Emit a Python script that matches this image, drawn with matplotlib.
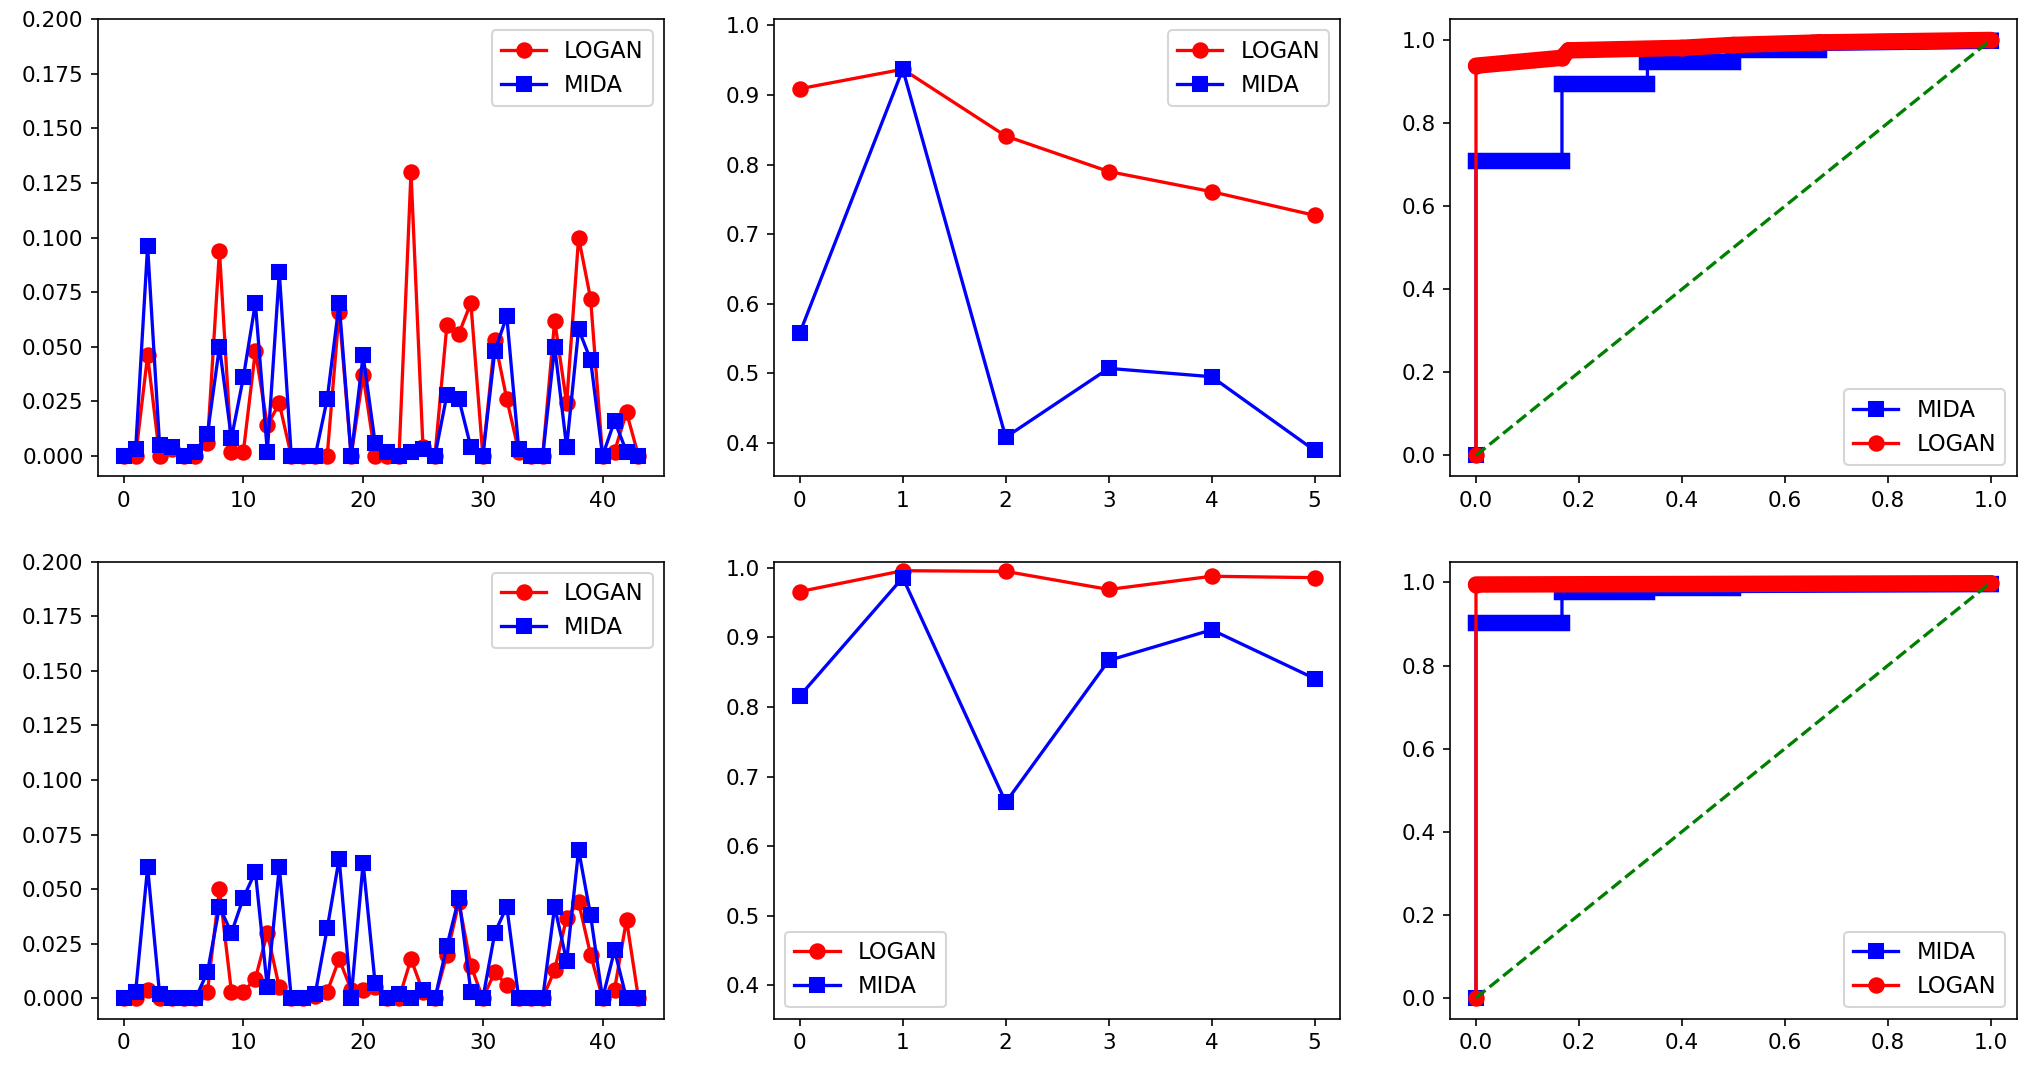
import matplotlib
matplotlib.use("Agg")
import matplotlib.pyplot as plt

plt.rcParams['font.size'] = 10.5
plt.rcParams['legend.fontsize'] = 11
plt.rcParams['lines.markersize'] = 7
plt.rcParams['lines.linewidth'] = 1.6

# per-sample error, top row / bottom row
logan_err_top = [0, 0, 0.046, 0, 0.003, 0, 0, 0.006, 0.094, 0.002, 0.002, 0.048, 0.014, 0.024, 0, 0,
                 0, 0, 0.066, 0, 0.037, 0, 0, 0, 0.130, 0.004, 0, 0.060, 0.056, 0.070, 0, 0.053,
                 0.026, 0.002, 0, 0, 0.062, 0.024, 0.100, 0.072, 0, 0.002, 0.020, 0]
mida_err_top = [0, 0.003, 0.096, 0.005, 0.004, 0, 0.002, 0.010, 0.050, 0.008, 0.036, 0.070, 0.002, 0.084, 0, 0,
                0, 0.026, 0.070, 0, 0.046, 0.006, 0.002, 0, 0.002, 0.003, 0, 0.028, 0.026, 0.004, 0, 0.048,
                0.064, 0.003, 0, 0, 0.050, 0.004, 0.058, 0.044, 0, 0.016, 0.002, 0]
logan_err_bot = [0, 0, 0.004, 0, 0, 0, 0, 0.003, 0.050, 0.003, 0.003, 0.009, 0.030, 0.005, 0, 0,
                 0.001, 0.003, 0.018, 0.004, 0.004, 0.005, 0, 0, 0.018, 0.003, 0, 0.020, 0.044, 0.015, 0, 0.012,
                 0.006, 0, 0, 0, 0.013, 0.037, 0.044, 0.020, 0, 0.004, 0.036, 0]
mida_err_bot = [0, 0.003, 0.060, 0.002, 0, 0, 0, 0.012, 0.042, 0.030, 0.046, 0.058, 0.005, 0.060, 0, 0,
                0.002, 0.032, 0.064, 0, 0.062, 0.007, 0, 0.002, 0, 0.004, 0, 0.024, 0.046, 0.003, 0, 0.030,
                0.042, 0, 0, 0, 0.042, 0.017, 0.068, 0.038, 0, 0.022, 0, 0]

# scores per setting
logan_score_top = [0.909, 0.937, 0.841, 0.790, 0.761, 0.727]
mida_score_top = [0.558, 0.937, 0.408, 0.507, 0.495, 0.389]
logan_score_bot = [0.966, 0.996, 0.995, 0.969, 0.988, 0.986]
mida_score_bot = [0.816, 0.986, 0.663, 0.867, 0.911, 0.841]

# ROC curves
mida_fpr_top = [0, 0, 0.167, 0.167, 0.333, 0.333, 0.5, 0.5, 0.667, 0.667, 1.0]
mida_tpr_top = [0, 0.709, 0.709, 0.895, 0.895, 0.948, 0.948, 0.976, 0.976, 0.993, 0.998]
logan_fpr_top = [0, 0, 0.167, 0.18, 0.4, 0.5, 0.667, 0.833, 1.0]
logan_tpr_top = [0, 0.938, 0.957, 0.975, 0.981, 0.988, 0.994, 0.997, 1.0]
mida_fpr_bot = [0, 0, 0.167, 0.167, 0.333, 0.333, 0.5, 0.5, 1.0]
mida_tpr_bot = [0, 0.903, 0.903, 0.978, 0.978, 0.986, 0.986, 0.994, 0.996]
logan_fpr_bot = [0, 0, 1.0]
logan_tpr_bot = [0, 0.995, 0.998]


def err_plot(ax, logan, mida):
    ax.plot(range(len(logan)), logan, 'r-o', label='LOGAN')
    ax.plot(range(len(mida)), mida, 'b-s', label='MIDA')
    ax.set_ylim(-0.0093, 0.2)
    ax.legend(loc='upper right')


def score_plot(ax, logan, mida, loc):
    ax.plot(range(len(logan)), logan, 'r-o', label='LOGAN')
    ax.plot(range(len(mida)), mida, 'b-s', label='MIDA')
    ax.set_ylim(0.352, 1.009)
    ax.set_yticks([0.4, 0.5, 0.6, 0.7, 0.8, 0.9, 1.0])
    ax.legend(loc=loc)


def roc_band(ax, fpr, tpr, color, cap):
    # thick band where the curve runs flat / along the top
    for k in range(1, len(fpr) - 1):
        if fpr[k + 1] > fpr[k]:
            ax.plot([fpr[k], fpr[k + 1]], [tpr[k], tpr[k + 1]], color=color, lw=8,
                    solid_capstyle=cap)


def roc_plot(ax, mfpr, mtpr, lfpr, ltpr):
    roc_band(ax, mfpr, mtpr, 'b', 'projecting')
    ax.plot(mfpr, mtpr, 'b-s', label='MIDA')
    roc_band(ax, lfpr, ltpr, 'r', 'round')
    ax.plot(lfpr, ltpr, 'r-o', label='LOGAN')
    ax.plot([0, 1], [0, 1], 'g--')
    ax.set_xlim(-0.05, 1.05)
    ax.set_ylim(-0.05, 1.05)
    ax.legend(loc='lower right')


fig, axs = plt.subplots(2, 3, figsize=(2040 / 148, 1065 / 148), dpi=148)
fig.subplots_adjust(left=0.048, right=0.9885, top=0.982, bottom=0.0435, wspace=0.194, hspace=0.187)

err_plot(axs[0, 0], logan_err_top, mida_err_top)
err_plot(axs[1, 0], logan_err_bot, mida_err_bot)
score_plot(axs[0, 1], logan_score_top, mida_score_top, 'upper right')
score_plot(axs[1, 1], logan_score_bot, mida_score_bot, 'lower left')
roc_plot(axs[0, 2], mida_fpr_top, mida_tpr_top, logan_fpr_top, logan_tpr_top)
roc_plot(axs[1, 2], mida_fpr_bot, mida_tpr_bot, logan_fpr_bot, logan_tpr_bot)

fig.savefig('out.png', dpi=148)
